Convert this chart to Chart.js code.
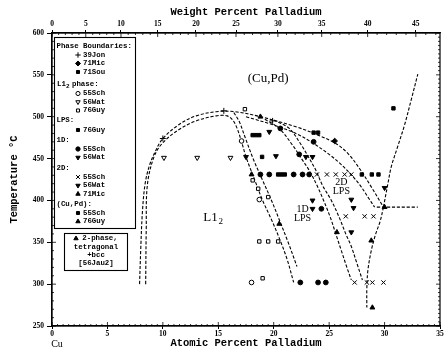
<!DOCTYPE html>
<html><head><meta charset="utf-8">
<script src="https://cdn.jsdelivr.net/npm/chart.js@4/dist/chart.umd.min.js"></script>
<style>html,body{margin:0;padding:0;background:#fff}</style>
</head><body>
<canvas id="c" width="445" height="350"></canvas>
<script>
// ---------- axis ticks ----------
const atomicTicks = [0,5,10,15,20,25,30,35];
const weightTicks = [0,5,10,15,20,25,30,35,40,45];
const tempTicks = [250,300,350,400,450,500,550,600];

// ---------- boundary curves [at.% Pd, °C] ----------
const domeOuter = [[7.9,300],[8.0,340],[8.15,385],[8.4,420],[8.8,442],[9.3,458],[10.0,474],[11.5,491],[13.0,501],[14.8,506],[16.5,506],[18.8,500],[22.0,488],[24.0,478],[25.6,468],[26.7,456],[27.8,437],[28.9,414],[29.9,392]];
const domeInner = [[8.45,300],[8.5,365],[8.6,418],[9.2,452],[10.0,469],[11.5,485],[13.0,495],[14.8,501],[15.8,501],[16.3,496],[16.7,486],[17.1,470],[17.5,452],[18.3,424],[19.0,400],[19.8,377],[20.5,355],[21.2,330],[21.8,302]];
const l12Lps = [[16.4,505],[16.9,494],[17.4,476],[18.2,448],[19.0,424],[19.8,400],[20.5,377],[21.3,350],[22.1,321]];
const lps1D2Da = [[19.2,497],[20.5,486],[21.7,466],[22.5,450],[23.2,436],[23.9,418],[24.5,400],[25.1,380],[25.6,360],[26.1,340],[26.6,320],[27.0,305]];
const lps1D2Db = [[20.0,496],[21.4,486],[22.4,468],[23.0,455],[23.8,436],[24.4,418],[25.2,400],[25.9,380],[26.5,360],[27.0,345],[27.5,325],[28.0,305]];
const lpsTopInner = [[17.5,500],[20.0,490],[22.0,480],[23.6,468],[25.0,455],[26.0,444],[26.9,432],[27.8,418],[28.5,404],[29.1,392]];
const rightLine = [[29.9,392],[30.3,420],[30.6,440],[31.2,465],[31.8,490],[32.4,520],[33.0,551]];
const hLine = [[29.3,392],[33.0,392]];
const lowCurve = [[29.9,392],[29.6,375],[29.2,360],[28.8,340],[28.5,317],[28.4,295],[28.4,272]];

// ---------- experimental points [at.% Pd, °C] ----------
const jon39 = [[10.0,474],[15.5,507],[19.9,495]];
const mic71 = [[25.5,471]];
const sou71 = [[23.6,481],[24.0,481]];
const sch55L12 = [[17.1,471],[18.7,401],[18.0,302]];
const wat56L12 = [[10.1,451],[13.1,451],[16.1,451]];
const guy76L12 = [[17.4,509],[18.1,424],[18.6,414],[19.5,404],[18.7,351],[19.5,351],[20.4,351],[19.0,307]];
const guy76LPS = [[18.1,478],[18.4,478],[18.7,478],[18.95,452],[20.4,431],[20.7,431],[21.0,431]];
const sch551D = [[18.8,431],[19.6,431],[21.8,431],[22.6,431],[23.2,431],[22.3,455],[23.6,470],[20.6,486],[24.3,390],[22.4,302],[24.0,302],[24.7,302]];
const wat561D = [[17.5,452],[20.2,453],[22.9,452],[23.5,452],[19.6,482],[23.5,400],[23.5,390]];
const sch552D = [[23.9,431],[24.8,431],[25.6,431],[26.4,431],[27.0,431],[26.5,381],[28.2,381],[29.0,381],[27.3,302],[28.4,302],[28.9,302],[29.9,302]];
const wat562D = [[27.0,401],[27.2,391],[27.0,362],[30.0,415]];
const mic712D = [[25.7,362],[28.8,352],[30.0,392],[20.5,372]];
const sch55CuPd = [[30.8,510],[27.95,431],[28.85,431],[29.45,431]];
const guy76CuPd = [[18.8,500],[18.0,431]];
const jau56 = [[28.9,272]];

// region labels
const regionText = ['(Cu,Pd)', 'L1', '2D', 'LPS', '1D', 'LPS'];
const regionPos = [[19.5,546],[14.3,379],[26.1,421],[26.1,411],[22.6,389],[22.6,378]];

// ---------- helpers ----------
const wtToAt = w => { const p = w/106.42, c = (100-w)/63.546; return 100*p/(p+c); };
const pts = arr => arr.map(([a,t]) => ({x:a, y:t}));

const STY = {
  plus:   {pointStyle:'cross', radius:3, rot:0, fill:'#000'},
  diam:   {pointStyle:'rectRot', radius:2.8, rot:0, fill:'#000'},
  sq:     {pointStyle:'rect', radius:2.4, rot:0, fill:'#000'},
  osq:    {pointStyle:'rect', radius:2.4, rot:0, fill:'#fff'},
  ocirc:  {pointStyle:'circle', radius:2.3, rot:0, fill:'#fff'},
  circ:   {pointStyle:'circle', radius:2.4, rot:0, fill:'#000'},
  otriD:  {pointStyle:'triangle', radius:2.8, rot:180, fill:'#fff'},
  triD:   {pointStyle:'triangle', radius:2.8, rot:180, fill:'#000'},
  triU:   {pointStyle:'triangle', radius:2.8, rot:0, fill:'#000'},
  x:      {pointStyle:'crossRot', radius:3, rot:0, fill:'#000'}
};

const lineSet = c => ({data: pts(c), showLine:true, borderColor:'#000', borderWidth:1.1, borderDash:[3.2,1.8], pointRadius:0, tension:0.35, fill:false, order:2});
const markSet = (c, s) => ({data: pts(c), showLine:false, pointStyle:STY[s].pointStyle, pointRadius:STY[s].radius, pointRotation:STY[s].rot, pointBackgroundColor:STY[s].fill, pointBorderColor:'#000', pointBorderWidth:1, order:1});

const datasets = [
  lineSet(domeOuter), lineSet(domeInner), lineSet(l12Lps), lineSet(lps1D2Da), lineSet(lps1D2Db),
  lineSet(lpsTopInner), lineSet(rightLine), lineSet(hLine), lineSet(lowCurve),
  markSet(jon39,'plus'), markSet(mic71,'diam'), markSet(sou71,'sq'),
  markSet(sch55L12,'ocirc'), markSet(wat56L12,'otriD'), markSet(guy76L12,'osq'),
  markSet(guy76LPS,'sq'), markSet(sch551D,'circ'), markSet(wat561D,'triD'),
  markSet(sch552D,'x'), markSet(wat562D,'triD'), markSet(mic712D,'triU'),
  markSet(sch55CuPd,'sq'), markSet(guy76CuPd,'triU'), markSet(jau56,'triU')
];

const legendRows = [
  {h:'Phase Boundaries:', y:46},
  {s:'plus', t:'39Jon', y:55}, {s:'diam', t:'71Mic', y:63.5}, {s:'sq', t:'71Sou', y:72},
  {h:'L12', y:84, sub:true},
  {s:'ocirc', t:'55Sch', y:93.5}, {s:'otriD', t:'56Wat', y:102}, {s:'osq', t:'76Guy', y:110.5},
  {h:'LPS:', y:120},
  {s:'sq', t:'76Guy', y:130},
  {h:'1D:', y:140},
  {s:'circ', t:'55Sch', y:149}, {s:'triD', t:'56Wat', y:157.5},
  {h:'2D:', y:168},
  {s:'x', t:'55Sch', y:177}, {s:'triD', t:'56Wat', y:185.5}, {s:'triU', t:'71Mic', y:194},
  {h:'(Cu,Pd):', y:204.5},
  {s:'sq', t:'55Sch', y:213}, {s:'triU', t:'76Guy', y:221.5}
];

function drawSym(ctx, s, x, y) {
  const st = STY[s];
  ctx.save();
  ctx.fillStyle = st.fill; ctx.strokeStyle = '#000'; ctx.lineWidth = 1;
  Chart.helpers.drawPoint(ctx, {pointStyle:st.pointStyle, radius:st.radius*0.9, rotation:st.rot, borderWidth:1}, x, y);
  ctx.restore();
}

const decor = {
  id:'decor',
  afterDraw(chart) {
    const {ctx, chartArea:ca, scales} = chart;
    const X = scales.x, Y = scales.y, X2 = scales.x2;
    ctx.save();
    ctx.strokeStyle = '#000'; ctx.lineWidth = 1.2;
    ctx.strokeRect(ca.left, ca.top, ca.right - ca.left, ca.bottom - ca.top);
    ctx.lineWidth = 0.8;
    ctx.beginPath();
    for (let v = 0; v <= 35.001; v += 0.5) {
      const p = X.getPixelForValue(v); const L = (Math.abs(v % 5) < 1e-6) ? 4 : 2;
      ctx.moveTo(p, ca.bottom); ctx.lineTo(p, ca.bottom - L);
    }
    for (let w = 0; w <= 47; w += 1) {
      const p = X2.getPixelForValue(wtToAt(w)); if (p > ca.right) break;
      const L = (w % 5 === 0) ? 4 : 2;
      ctx.moveTo(p, ca.top); ctx.lineTo(p, ca.top + L);
    }
    for (let t = 250; t <= 600; t += 10) {
      const p = Y.getPixelForValue(t); const L = (t % 50 === 0) ? 4 : 2;
      ctx.moveTo(ca.left, p); ctx.lineTo(ca.left + L, p);
    }
    for (let t = 250; t <= 600; t += 5) {
      const p = Y.getPixelForValue(t); const L = (t % 50 === 0) ? 4 : 2;
      ctx.moveTo(ca.right, p); ctx.lineTo(ca.right - L, p);
    }
    ctx.stroke();

    // region labels
    ctx.fillStyle = '#000'; ctx.textBaseline = 'middle'; ctx.textAlign = 'center';
    regionText.forEach((t, i) => {
      const px = X.getPixelForValue(regionPos[i][0]), py = Y.getPixelForValue(regionPos[i][1]);
      if (i === 0) ctx.font = '13px "Liberation Serif"';
      else if (i === 1) ctx.font = '13px "Liberation Serif"';
      else ctx.font = '10px "Liberation Serif"';
      ctx.fillText(t, px, py);
      if (i === 1) {
        const w = ctx.measureText(t).width;
        ctx.font = '9px "Liberation Serif"';
        ctx.fillText('2', px + w/2 + 3, py + 4);
      }
    });

    // Cu under axis
    ctx.font = '10px "Liberation Serif"'; ctx.textAlign = 'center';
    ctx.fillText('Cu', X.getPixelForValue(0) + 5, 344);

    // legend box 1
    ctx.fillStyle = '#fff'; ctx.fillRect(54, 37, 82, 192);
    ctx.strokeStyle = '#000'; ctx.lineWidth = 1.1; ctx.strokeRect(54.5, 37.5, 81, 191);
    ctx.fillStyle = '#000'; ctx.textAlign = 'left'; ctx.textBaseline = 'middle';
    legendRows.forEach(r => {
      if (r.h) {
        ctx.font = 'bold 7.4px "Liberation Mono"';
        if (r.sub) {
          ctx.fillText('L1', 57, r.y);
          ctx.font = 'bold 6px "Liberation Mono"';
          ctx.fillText('2', 66, r.y + 2.5);
          ctx.font = 'bold 7.4px "Liberation Mono"';
          ctx.fillText('phase:', 72, r.y);
        } else ctx.fillText(r.h, 56.5, r.y);
      } else {
        drawSym(ctx, r.s, 78, r.y);
        ctx.fillStyle = '#000';
        ctx.font = 'bold 7.4px "Liberation Mono"';
        ctx.fillText(r.t, 83, r.y);
      }
    });

    // legend box 2
    ctx.fillStyle = '#fff'; ctx.fillRect(64, 233, 64, 38);
    ctx.strokeRect(64.5, 233.5, 63, 37);
    ctx.fillStyle = '#000'; ctx.textAlign = 'center';
    ctx.font = 'bold 7.4px "Liberation Mono"';
    drawSym(ctx, 'triU', 76, 238.5);
    ctx.fillStyle = '#000';
    ctx.fillText('2-phase,', 100, 238.5);
    ctx.fillText('tetragonal', 96, 247);
    ctx.fillText('+bcc', 96, 255);
    ctx.fillText('[56Jau2]', 96, 263.5);
    ctx.restore();
  }
};

const tickFont = {family:'Liberation Serif', size:7.5, weight:'bold'};
const titleFont = {family:'Liberation Mono', size:10.5, weight:'bold'};

new Chart(document.getElementById('c'), {
  type:'scatter',
  data:{datasets},
  options:{
    responsive:false, animation:false, events:[],
    layout:{padding:{left:0, right:3, top:0, bottom:0}},
    plugins:{legend:{display:false}, tooltip:{enabled:false}},
    scales:{
      x:{type:'linear', position:'bottom', min:0, max:35,
         afterBuildTicks: s => { s.ticks = atomicTicks.map(v => ({value:v})); },
         ticks:{autoSkip:false, maxRotation:0, color:'#000', font:tickFont, padding:1, callback:(v,i)=>String(atomicTicks[i])},
         grid:{drawOnChartArea:false, tickLength:3, color:'#000'},
         border:{color:'#000', width:1.2},
         title:{display:true, text:'Atomic Percent Palladium', color:'#000', font:titleFont, padding:{top:0,bottom:0}},
         afterFit: s => { s.height = 24; }},
      x2:{type:'linear', position:'top', min:0, max:35,
         afterBuildTicks: s => { s.ticks = weightTicks.map(w => ({value:wtToAt(w)})); },
         ticks:{autoSkip:false, maxRotation:0, color:'#000', font:tickFont, padding:1.5, callback:(v,i)=>String(weightTicks[i])},
         grid:{drawOnChartArea:false, tickLength:3, color:'#000'},
         border:{color:'#000', width:1.2},
         title:{display:true, text:'Weight Percent Palladium', color:'#000', font:titleFont, padding:{top:6.5,bottom:0}},
         afterFit: s => { s.height = 33; }},
      y:{type:'linear', position:'left', min:250, max:600,
         afterBuildTicks: s => { s.ticks = tempTicks.map(v => ({value:v})); },
         ticks:{autoSkip:false, color:'#000', font:tickFont, padding:3, callback:(v,i)=>String(tempTicks[i])},
         grid:{drawOnChartArea:false, tickLength:5, color:'#000'},
         border:{color:'#000', width:1.2},
         title:{display:true, text:'Temperature °C', color:'#000', font:titleFont, padding:{top:8.5,bottom:0}},
         afterFit: s => { s.width = 52; }}
    }
  },
  plugins:[decor]
});
</script>
</body></html>
